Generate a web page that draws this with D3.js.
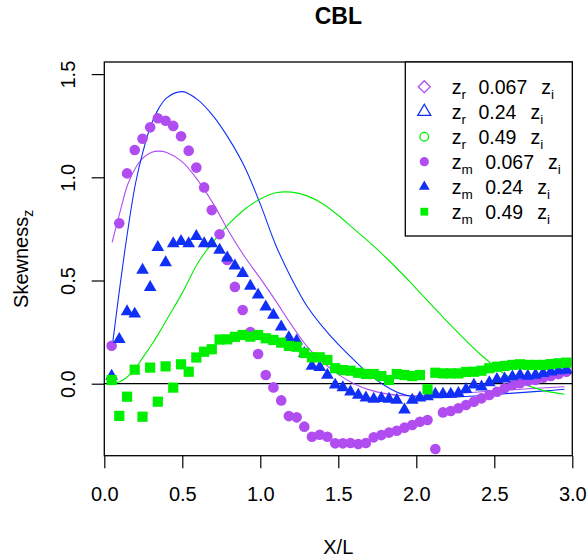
<!DOCTYPE html>
<html>
<head>
<meta charset="utf-8">
<script src="https://cdn.jsdelivr.net/npm/d3@7"></script>
<style>
	body { margin:0; background:#fff; }
	text { font-family: "Liberation Sans", Arial, sans-serif; fill:#000; }
</style>
</head>
<body>
<div id="graph"></div>
<script>
// X/L positions of the measured points (shared by all three zm series)
const xPos = [0.047,0.096,0.146,0.195,0.245,0.294,0.343,0.393,0.442,0.492,
	0.541,0.590,0.640,0.689,0.739,0.788,0.837,0.887,0.936,0.986,
	1.035,1.084,1.134,1.183,1.233,1.282,1.331,1.381,1.430,1.480,
	1.529,1.578,1.628,1.677,1.727,1.776,1.825,1.875,1.924,1.974,
	2.023,2.072,2.122,2.171,2.221,2.270,2.319,2.369,2.418,2.468,
	2.517,2.566,2.616,2.665,2.715,2.764,2.813,2.863,2.912,2.962];

// zm series (points)
const zm067 = [0.184,0.777,1.019,1.132,1.187,1.242,1.286,1.274,1.249,1.199,
	1.129,1.047,0.951,0.841,0.724,0.599,0.469,0.357,0.25,0.144,
	0.042,-0.018,-0.081,-0.157,-0.163,-0.208,-0.257,-0.247,-0.257,-0.289,
	-0.289,-0.287,-0.292,-0.287,-0.26,-0.249,-0.237,-0.228,-0.213,-0.2,
	-0.184,-0.176,-0.316,-0.139,-0.132,-0.119,-0.103,-0.087,-0.071,-0.055,
	-0.039,-0.022,-0.006,0.002,0.013,0.018,0.029,0.037,0.047,0.058];
const zm024 = [0.037,0.215,0.35,0.338,0.551,0.467,0.661,0.587,0.679,0.690,
	0.679,0.714,0.679,0.679,0.647,0.610,0.571,0.535,0.473,0.43,
	0.373,0.333,0.276,0.223,0.208,0.147,0.085,0.079,0.042,-0.006,
	-0.019,-0.039,-0.055,-0.068,-0.074,-0.071,-0.074,-0.079,-0.127,-0.079,
	-0.068,-0.063,-0.05,-0.05,-0.05,-0.047,-0.027,-0.006,-0.015,0.005,
	0.021,0.024,0.034,0.042,0.037,0.042,0.05,0.058,0.063,0.066];
const zm049 = [0.018,-0.156,-0.063,0.068,-0.16,0.078,-0.087,0.084,-0.019,0.094,
	0.058,0.127,0.155,0.167,0.214,0.215,0.227,0.236,0.228,0.236,
	0.22,0.212,0.199,0.183,0.179,0.149,0.128,0.128,0.115,0.075,
	0.066,0.063,0.053,0.047,0.047,0.037,0.018,0.047,0.042,0.037,
	0.042,-0.027,0.053,0.05,0.05,0.05,0.057,0.058,0.063,0.075,
	0.082,0.086,0.091,0.094,0.091,0.091,0.091,0.095,0.099,0.102];

// zr series (model curves), sampled along lineX
const lineX = [0.05,0.1,0.15,0.2,0.25,0.3,0.35,0.4,0.5,0.6,
	0.7,0.8,0.9,1.0,1.1,1.2,1.3,1.4,1.5,1.6,
	1.7,1.8,1.9,2.0,2.1,2.2,2.4,2.6,2.8,2.95];
const zr067 = [0.685,0.83,0.965,1.045,1.095,1.12,1.127,1.12,1.075,0.985,
	0.87,0.735,0.615,0.51,0.40,0.285,0.18,0.105,0.045,0.0,
	-0.03,-0.048,-0.057,-0.058,-0.055,-0.05,-0.04,-0.03,-0.021,-0.015];
const zr024 = [0.175,0.47,0.74,0.97,1.13,1.255,1.335,1.385,1.415,1.375,
	1.295,1.185,1.05,0.87,0.67,0.51,0.375,0.275,0.19,0.115,
	0.045,-0.01,-0.048,-0.065,-0.068,-0.066,-0.058,-0.047,-0.036,-0.027];
const zr049 = [0.0,0.01,0.035,0.075,0.13,0.185,0.245,0.31,0.44,0.585,
	0.69,0.775,0.845,0.895,0.925,0.928,0.91,0.872,0.815,0.75,
	0.685,0.615,0.54,0.46,0.38,0.30,0.15,0.03,-0.03,-0.051];

const xTicks = [0.0,0.5,1.0,1.5,2.0,2.5,3.0];
const yTicks = [0.0,0.5,1.0,1.5];
const legendLabels = [
	{sym:"diamond", sub:"r", val:"0.067"},
	{sym:"triOpen", sub:"r", val:"0.24"},
	{sym:"circOpen", sub:"r", val:"0.49"},
	{sym:"circle", sub:"m", val:"0.067"},
	{sym:"triangle", sub:"m", val:"0.24"},
	{sym:"square", sub:"m", val:"0.49"}];

const width=588, height=557;
const padding = {left:104.3, right:15.7, top:62, bottom:101.3};
const purple="#b04cf0", blue="#1030f5", green="#00ee00";

let graph, xScale, yScale;

function setUpChart() {
	graph = d3.select("div#graph")
		.append("svg")
		.attr("width", width)
		.attr("height", height);

	xScale = d3.scaleLinear()
		.domain([0,3])
		.range([padding.left, width - padding.right]);
	yScale = d3.scaleLinear()
		.domain([-0.3488,1.5586])
		.range([height - padding.bottom, padding.top]);

	graph.append("defs").append("clipPath").attr("id","plotclip")
		.append("rect")
		.attr("x", padding.left).attr("y", padding.top)
		.attr("width", width - padding.left - padding.right)
		.attr("height", height - padding.top - padding.bottom);

	let xAxis = d3.axisBottom(xScale)
		.tickValues(xTicks)
		.tickFormat(d3.format(".1f"))
		.tickSize(12.6)
		.tickPadding(19);
	let yAxis = d3.axisLeft(yScale)
		.tickValues(yTicks)
		.tickFormat(d3.format(".1f"))
		.tickSize(12.6);

	let gx = graph.append("g")
		.attr("class","x axis")
		.attr("transform", `translate(0, ${height - padding.bottom})`)
		.call(xAxis);
	gx.select(".domain").remove();
	gx.selectAll("line").attr("stroke","#000").attr("stroke-width",1.2);
	gx.selectAll("text").style("font-size","20px").attr("fill","#000");

	let gy = graph.append("g")
		.attr("class","y axis")
		.attr("transform", `translate(${padding.left}, 0)`)
		.call(yAxis);
	gy.select(".domain").remove();
	gy.selectAll("line").attr("stroke","#000").attr("stroke-width",1.2);
	gy.selectAll("text")
		.attr("x",0).attr("dy",0)
		.attr("transform","translate(-29.3,0) rotate(-90)")
		.style("text-anchor","middle")
		.style("font-size","20px")
		.attr("fill","#000");

	// title and axis labels
	graph.append("text")
		.attr("x", xScale(1.5)).attr("y", 24)
		.style("text-anchor","middle")
		.style("font-size","23px")
		.style("font-weight","bold")
		.text("CBL");

	graph.append("text")
		.attr("x", xScale(1.5)).attr("y", 554)
		.style("text-anchor","middle")
		.style("font-size","20px")
		.text("X/L");

	let ylab = graph.append("text")
		.attr("transform", `translate(28, ${(padding.top + height - padding.bottom)/2}) rotate(-90)`)
		.style("text-anchor","middle")
		.style("font-size","20px");
	ylab.append("tspan").text("Skewness");
	ylab.append("tspan").attr("dy",5).style("font-size","14px").text("z");
}

function symbol(g, type, size, col) {
	let s;
	if (type=="circle" || type=="circOpen") {
		s = g.append("circle").attr("r", size);
	} else if (type=="square") {
		s = g.append("rect").attr("x",-size).attr("y",-size).attr("width",2*size).attr("height",2*size);
	} else if (type=="diamond") {
		s = g.append("path").attr("d", `M0,${-size}L${size},0L0,${size}L${-size},0Z`);
	} else {
		// triangle with centroid at the point
		let w = size*1.35, t = size*1.555, b = size*0.78;
		s = g.append("path").attr("d", `M0,${-t}L${w},${b}L${-w},${b}Z`);
	}
	if (type=="diamond" || type=="triOpen" || type=="circOpen")
		s.attr("fill","none").attr("stroke",col).attr("stroke-width",1.3);
	else
		s.attr("fill",col);
	return s;
}

function drawChart() {
	let plot = graph.append("g").attr("clip-path","url(#plotclip)");

	plot.append("line")
		.attr("x1", padding.left).attr("x2", width - padding.right)
		.attr("y1", yScale(0)).attr("y2", yScale(0))
		.attr("stroke","#000").attr("stroke-width",1.2);

	let line = d3.line()
		.curve(d3.curveCatmullRom.alpha(0.5))
		.x((d,i) => xScale(lineX[i]))
		.y(d => yScale(d));

	[[zr067,purple],[zr024,blue],[zr049,green]].forEach(function(s) {
		plot.append("path").datum(s[0])
			.attr("fill","none")
			.attr("stroke", s[1])
			.attr("stroke-width",1.1)
			.attr("d", line);
	});

	let pts = [[zm067,"circle",5.3,purple],[zm024,"triangle",4.7,blue],[zm049,"square",5.1,green]];
	pts.forEach(function(s) {
		let g = plot.append("g");
		s[0].forEach(function(v,i) {
			let p = g.append("g").attr("transform", `translate(${xScale(xPos[i])},${yScale(v)})`);
			symbol(p, s[1], s[2], s[3]);
		});
	});

	// plot box
	graph.append("rect")
		.attr("x", padding.left).attr("y", padding.top)
		.attr("width", width - padding.left - padding.right)
		.attr("height", height - padding.top - padding.bottom)
		.attr("fill","none").attr("stroke","#000").attr("stroke-width",1.3);

	// legend
	let legend = graph.append("g").attr("class","legend");
	legend.append("rect")
		.attr("x",405.3).attr("y",padding.top)
		.attr("width", width - padding.right - 405.3).attr("height",174)
		.attr("fill","#fff").attr("stroke","#000").attr("stroke-width",1.3);
	let cols = [purple,blue,green,purple,blue,green];
	let sizes = [6,4.8,4.3,4.6,4.0,3.9];
	legendLabels.forEach(function(d,i) {
		let y = 86.7 + 25*i;
		let p = legend.append("g").attr("transform", `translate(424.3,${y})`);
		symbol(p, d.sym, sizes[i], cols[i]);
		let t = legend.append("text")
			.attr("x",451.7).attr("y", y+6.8)
			.style("font-size","19.5px");
		t.append("tspan").text("z");
		t.append("tspan").attr("dy",5).style("font-size","13.5px").text(d.sub);
		t.append("tspan").attr("dy",-5).attr("dx",12.5).text(d.val);
		t.append("tspan").attr("dx",14).text("z");
		t.append("tspan").attr("dy",5).style("font-size","13.5px").text("i");
	});
}

setUpChart();
drawChart();
</script>
</body>
</html>
